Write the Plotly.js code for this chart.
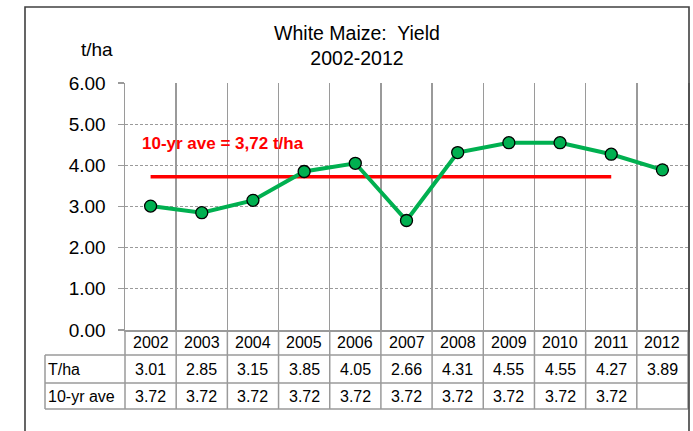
<!DOCTYPE html>
<html>
<head>
<meta charset="utf-8">
<script src="https://cdn.plot.ly/plotly-3.0.1.min.js"></script>
<style>html,body{margin:0;padding:0;background:#fff;}#chart{width:693px;height:431px;}</style>
</head>
<body>
<div id="chart"></div>
<script>
// ---- data ----
const years = [2002, 2003, 2004, 2005, 2006, 2007, 2008, 2009, 2010, 2011, 2012];
const yieldTha = [3.01, 2.85, 3.15, 3.85, 4.05, 2.66, 4.31, 4.55, 4.55, 4.27, 3.89];
const tenYrAve = [3.72, 3.72, 3.72, 3.72, 3.72, 3.72, 3.72, 3.72, 3.72, 3.72, null];
const rowLabels = ['T/ha', '10-yr ave'];
const yTicks = [0, 1, 2, 3, 4, 5, 6];
const aveLabel = '10-yr ave = 3,72 t/ha';

// ---- styling ----
const FONT = 'Liberation Sans, Arial, sans-serif';
const GRID = '#9a9a9a';
const W = 693, H = 431;
const M = {l: 125, r: 5, t: 83, b: 101};
const plotH = H - M.t - M.b, plotW = W - M.l - M.r;
const pyOf = px => (H - M.b - px) / plotH;   // pixel row -> paper y
const pxOf = px => (px - M.l) / plotW;       // pixel col -> paper x
const rowTop = [330, 355, 383], rowBot = [355, 383, 409];

const traces = [
  {x: years, y: tenYrAve, type: 'scatter', mode: 'lines',
   line: {color: '#ff0000', width: 3.5}, hoverinfo: 'skip', connectgaps: false},
  {x: years, y: yieldTha, type: 'scatter', mode: 'lines+markers',
   line: {color: '#00b050', width: 4},
   marker: {color: '#00b050', size: 12, line: {color: '#000', width: 1.3}}}
];

const bounds = years.map(y => y - 0.5).concat([years[years.length - 1] + 0.5]);
const shapes = [];
bounds.slice(1, -1).forEach(b => {
  shapes.push({type: 'line', xref: 'x', yref: 'paper', x0: b, x1: b,
    y0: pyOf(330), y1: pyOf(409), line: {color: GRID, width: 1.5}});
});
[0, 1].forEach(px => shapes.push({type: 'line', xref: 'paper', yref: 'paper', x0: px, x1: px,
  y0: pyOf(330), y1: pyOf(409), line: {color: GRID, width: 1.5}}));
shapes.push({type: 'line', xref: 'paper', yref: 'paper', x0: pxOf(45), x1: pxOf(45),
  y0: pyOf(355), y1: pyOf(409), line: {color: GRID, width: 1.5}});
[355, 383, 409].forEach(r => shapes.push({type: 'line', xref: 'paper', yref: 'paper',
  x0: pxOf(45), x1: 1, y0: pyOf(r), y1: pyOf(r), line: {color: GRID, width: 1.5}}));
shapes.push({type: 'rect', xref: 'paper', yref: 'paper', x0: pxOf(25), x1: pxOf(689),
  y0: pyOf(460), y1: pyOf(7), line: {color: '#404040', width: 1.6}, fillcolor: 'rgba(0,0,0,0)'});

const annotations = [];
const tfont = {family: FONT, size: 16, color: '#000'};
years.forEach((yr, i) => {
  annotations.push({x: yr, xref: 'x', y: pyOf((rowTop[0] + rowBot[0]) / 2), yref: 'paper',
    text: String(yr), showarrow: false, font: tfont, xanchor: 'center', yanchor: 'middle'});
  annotations.push({x: yr, xref: 'x', y: pyOf((rowTop[1] + rowBot[1]) / 2), yref: 'paper',
    text: yieldTha[i].toFixed(2), showarrow: false, font: tfont, xanchor: 'center', yanchor: 'middle'});
  if (tenYrAve[i] !== null) annotations.push({x: yr, xref: 'x', y: pyOf((rowTop[2] + rowBot[2]) / 2), yref: 'paper',
    text: tenYrAve[i].toFixed(2), showarrow: false, font: tfont, xanchor: 'center', yanchor: 'middle'});
});
rowLabels.forEach((lab, k) => annotations.push({x: pxOf(46), xref: 'paper',
  y: pyOf((rowTop[k + 1] + rowBot[k + 1]) / 2), yref: 'paper', text: lab, showarrow: false,
  font: tfont, xanchor: 'left', yanchor: 'middle'}));
annotations.push({x: pxOf(97), xref: 'paper', y: pyOf(50), yref: 'paper', text: 't/ha',
  showarrow: false, font: {family: FONT, size: 19, color: '#000'}, xanchor: 'center', yanchor: 'middle'});
annotations.push({x: pxOf(140), xref: 'paper', y: pyOf(143), yref: 'paper', text: '<b>' + aveLabel + '</b>',
  showarrow: false, font: {family: FONT, size: 17, color: '#ff0000'}, xanchor: 'left', yanchor: 'middle'});

const layout = {
  width: W, height: H,
  margin: M,
  paper_bgcolor: '#fff', plot_bgcolor: '#fff',
  showlegend: false,
  title: {text: 'White Maize:  Yield<br>2002-2012', x: 357 / W, xanchor: 'center', xref: 'container',
    y: 1 - 40 / H, yanchor: 'top', yref: 'container', font: {family: FONT, size: 19.5, color: '#000'}},
  xaxis: {type: 'linear', range: [bounds[0], bounds[bounds.length - 1]], tickvals: bounds,
    showticklabels: false, ticks: '', showgrid: true, gridcolor: GRID, gridwidth: 1.5,
    zeroline: false, showline: true, linecolor: GRID, linewidth: 1.5, fixedrange: true},
  yaxis: {range: [0, 6], tickvals: yTicks, ticktext: yTicks.map(v => v.toFixed(2)),
    ticks: 'outside', ticklen: 6, tickcolor: GRID, tickwidth: 1.2, ticklabelstandoff: 8,
    tickfont: {family: FONT, size: 19, color: '#000'},
    showgrid: true, gridcolor: GRID, gridwidth: 1, griddash: '3px,2px',
    zeroline: false, showline: true, mirror: true, linecolor: GRID, linewidth: 1.5, fixedrange: true},
  shapes: shapes,
  annotations: annotations
};

Plotly.newPlot('chart', traces, layout, {staticPlot: true, displayModeBar: false});
</script>
</body>
</html>
